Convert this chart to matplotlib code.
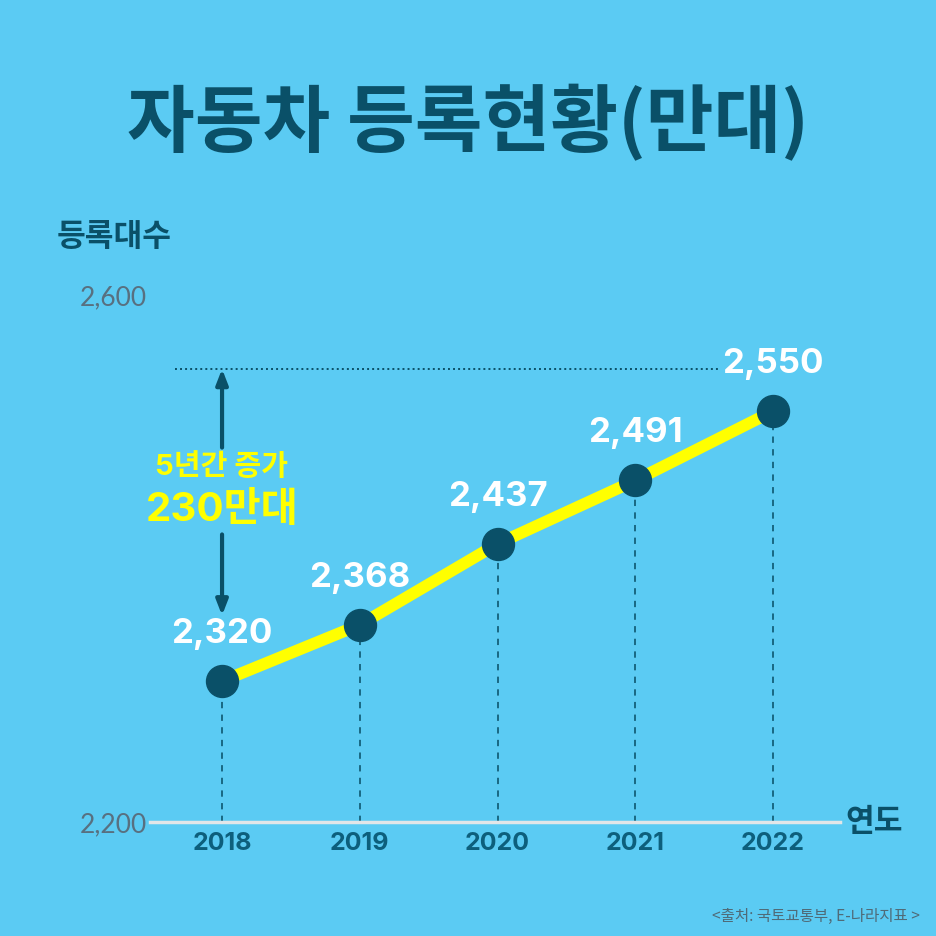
import matplotlib
matplotlib.use("Agg")
import matplotlib.pyplot as plt

years = [2018, 2019, 2020, 2021, 2022]
values = [2320, 2368, 2437, 2491, 2550]
value_labels = ["2,320", "2,368", "2,437", "2,491", "2,550"]
ytick_labels = ["2,200", "2,600"]
title = "자동차 등록현황(만대)"
ylabel = "등록대수"
xlabel = "연도"
note_lines = ["5년간 증가", "230만대"]
source = "<출처: 국토교통부, E-나라지표 >"

BG = "#5BCBF3"
DARK = "#0A5068"
TICK = "#0D5F7C"
GREY = "#4F6B78"
YELLOW = "#FFFF00"

plt.rcParams["font.family"] = ["Noto Sans CJK KR", "DejaVu Sans"]
NUM = ["Inter", "Noto Sans CJK KR", "DejaVu Sans"]

fig = plt.figure(figsize=(9.36, 9.36), dpi=100, facecolor=BG)
ax = fig.add_axes([150 / 936, 114 / 936, 690 / 936, 527 / 936])
ax.set_facecolor(BG)

ax.set_xlim(2017.477, 2022.486)
ax.set_ylim(2200, 2649)

# guide lines from each point down to the base
ax.vlines(years, 2200, values, colors="#14607A", linestyles=(0, (3.5, 3.5)),
          lw=1.3, zorder=1)
ax.plot(years, values, color=YELLOW, lw=8.5, zorder=2, solid_capstyle="butt")
ax.plot(years, values, "o", ms=23, color=DARK, zorder=3)

for x, y, s in zip(years, values, value_labels):
    ax.annotate(s, (x, y), xytext=(0, 34), textcoords="offset points",
                ha="center", va="center", color="white", fontsize=25,
                fontweight="bold", family=NUM, zorder=4)

# 5-year increase marker
top = values[-1] + 36
ax.plot([years[0] - 0.34, years[-1] - 0.4], [top, top], color=DARK, lw=1.4,
        ls=(0, (1, 1.6)), zorder=1)
arrow = dict(arrowstyle="-|>,head_length=0.9,head_width=0.35", color=DARK,
             lw=3, shrinkA=0, shrinkB=0)
ax.annotate("", xy=(years[0], top), xytext=(years[0], 2519), arrowprops=arrow)
ax.annotate("", xy=(years[0], 2376), xytext=(years[0], 2445), arrowprops=arrow)
ax.text(years[0], 2502, note_lines[0], ha="center", va="center", color=YELLOW,
        fontsize=21, fontweight="bold", family=NUM)
ax.text(years[0], 2466, note_lines[1], ha="center", va="center", color=YELLOW,
        fontsize=29, fontweight="bold", family=NUM)

for side in ["top", "right", "left"]:
    ax.spines[side].set_visible(False)
ax.spines["bottom"].set_color("#E2E6E8")
ax.spines["bottom"].set_linewidth(2.5)

ax.set_xticks(years, labels=[str(y) for y in years])
ax.set_yticks(ax.get_ylim(), labels=ytick_labels)
ax.tick_params(axis="x", length=0, pad=7, labelsize=18, labelcolor=TICK)
ax.tick_params(axis="y", length=0, pad=2, labelsize=19, labelcolor="#587080")
for lab in ax.get_xticklabels():
    lab.set_fontweight("bold")
    lab.set_family(NUM)
for lab in ax.get_yticklabels():
    lab.set_fontweight("normal")
    lab.set_family(["Lato", "DejaVu Sans"])

fig.text(0.5, 1 - 124 / 936, title, ha="center", va="center", color=DARK,
         fontsize=53, fontweight="black")
fig.text(57 / 936, 1 - 237 / 936, ylabel, ha="left", va="center", color=DARK,
         fontsize=22.5, fontweight="bold")
fig.text(845 / 936, 1 - 822 / 936, xlabel, ha="left", va="center", color=DARK,
         fontsize=22.5, fontweight="bold")
fig.text(920 / 936, 1 - 916 / 936, source, ha="right", va="center", color=GREY,
         fontsize=11.2)

fig.savefig("out.png", dpi=100, facecolor=BG)
